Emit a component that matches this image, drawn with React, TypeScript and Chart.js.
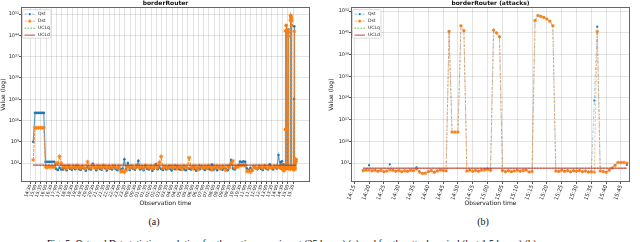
import React, { useEffect, useRef } from "react";
import { Chart, registerables } from "chart.js";
Chart.register(...registerables);

// ---------- DATA ----------
// Panel (a): whole experiment. Normal period sampled every 10 min from 14:47 (day 1)
const leftNormalStart = "14:47";
const leftNormalStepMin = 10;
const leftNormalQst = [
  1e9,
  3.2e18, 3.2e18, 3.2e18, 3.2e18, 3.2e18, 3.2e18,
  250, 260, 240, 250, 255, 245,
  1.2, 0.5, 3, 0.7,
  0.8, 2.5, 0.4, 5.1, 1.3, 0.6, 3.2, 0.9, 6.5, 1.1,
  0.5, 2.8, 1.6, 0.3, 4.2, 1.0, 0.7, 60, 2.2, 0.4,
  3.5, 1.2, 0.6, 8.5, 1.8, 0.35, 2.6, 1.4, 0.8, 5.5,
  1.1, 0.45, 2.9, 0.7, 1.5, 1600, 0.9, 100, 0.5, 3.1,
  1.3, 0.6, 4.4, 500, 0.8, 2.0, 0.4, 6.2, 1.2, 0.7,
  2.7, 0.3, 1.6, 45, 0.9, 3.6, 1.1, 0.5, 2.3, 0.8,
  5.0, 1.4, 0.35, 2.1, 0.9, 7.0, 1.2, 0.6, 3.3, 1.0,
  0.4, 2.4, 1.3, 0.7, 4.8, 1.1, 0.3, 2.6, 0.9, 6.0,
  1.5, 0.5, 3.0, 1.2, 0.7, 30, 0.8, 2.2, 0.4, 4.0,
  1.3, 0.6, 2.8, 1.0, 0.45, 5.5, 1000, 1.4, 0.7, 3.2,
  12, 300, 200, 350, 250, 1.5, 0.5, 2.5, 0.3, 6.5,
  1.8, 0.9, 3.6, 1.2, 0.5, 4.5, 1.6, 0.8, 40, 2.0,
  0.7, 5.0, 1.5, 40000,
];
const leftNormalDst = [
  1e3,
  4e13, 4e13, 4e13, 4e13, 4e13, 4e13,
  5, 3, 7, 4, 6, 3.5,
  80, 90, 15000, 70,
  3.5, 8.0, 1.5, 12, 4.0, 2.2, 9.0, 3.0, 15, 5.0,
  2.0, 7.5, 3.0, 1.2, 250, 3.8, 2.5, 18, 6.0, 1.8,
  9.5, 4.2, 2.0, 14, 5.5, 1.4, 7.0, 3.2, 2.6, 11,
  4.5, 1.6, 8.0, 0.12, 0.3, 0.1, 0.4, 6.5, 2.4, 9.0,
  3.6, 1.8, 12, 5.0, 2.8, 7.5, 1.3, 16, 4.4, 2.2,
  8.5, 1.5, 5.5, 20, 3.0, 150, 15000, 2.0, 7.0, 3.4,
  1.6, 10, 4.5, 2.4, 13, 1.2, 6.0, 3.5, 0.8, 9.0,
  4.0, 2.0, 6000, 5.0, 1.4, 8.0, 3.2, 0.6, 11, 4.2,
  2.6, 7.0, 1.8, 12, 3.8, 0.5, 6.5, 2.2, 9.5, 3.0,
  1.5, 8.0, 4.6, 0.4, 10, 3.0, 80, 500, 2.4, 7.5,
  5.0, 20, 15, 30, 12, 0.15, 0.3, 0.1, 0.5, 8.0,
  3.0, 1.4, 10, 4.8, 2.0, 13, 5.5, 1.6, 7.0, 3.2,
  2.4, 9.0, 4.0, 6.0,
];

// Attack period (used in both panels): sampled every minute from 14:18 (day 2)
const attackStart = "14:18";
const attackStepMin = 1;
const attackQst = [
  4.0, 6.0, 200, 3.5, 5.0, 2.5, 4.0, 1.8, 3.0, 400, 5.0, 2.0, 4.5, 1.5, 3.5, 2.0, 5.0, 3.0, 40, 2.0,
  0.5, 0.6, 1.5, 4.0, 1.2, 3.5, 6.0, 4.0, 2.5,
  3e45, 1e13, 1e13, 1e13, 2e47, 5e45,
  3.0, 5.0, 2.0, 4.5, 3.0, 6.0, 12, 15, 10,
  8e45, 1e45, 6e43,
  4.0, 2.0, 3.5, 1.5, 3.0, 5.0, 2.0, 4.0, 6.0, 1.5, 2.0,
  1e49, 4e50, 2e50, 1e50, 3e49, 6e48, 2e47,
  3.0, 2.0, 5.0, 2.5, 4.0, 1.5, 3.5, 2.0, 4.5, 1.8, 3.0, 1.5, 2.0,
  1.5e23, 1e47,
  3.0, 2.0, 1.2,
  5.0, 30, 200, 1500, 1500, 1500, 250,
];
const attackDst = [
  3.0, 4.5, 5.0, 3.0, 4.0, 2.0, 4.5, 1.6, 2.5, 6.0, 4.0, 2.5, 3.5, 1.8, 3.0, 2.2, 4.0, 3.5, 12, 1.2,
  0.4, 0.5, 1.8, 3.0, 1.0, 2.5, 5.0, 3.5, 3.0,
  3e45, 1e13, 1e13, 1e13, 2e47, 5e45,
  2.5, 4.0, 2.5, 3.5, 2.0, 4.5, 5.0, 8.0, 4.0,
  8e45, 1e45, 6e43,
  3.5, 1.5, 3.0, 1.8, 2.5, 4.0, 2.5, 3.5, 5.0, 1.2, 1.8,
  1e49, 4e50, 2e50, 1e50, 3e49, 6e48, 2e47,
  2.5, 2.0, 4.0, 2.0, 3.0, 1.5, 3.0, 2.5, 3.5, 1.5, 2.5, 1.2, 1.5,
  1.2, 2.5e45,
  2.5, 1.8, 1.0,
  4.0, 25, 150, 1500, 1500, 1500, 1000,
];

const UCLQ = 22;
const UCLD = 20;

const leftTickLabels = [
  "14:30", "15:00", "15:30", "16:00", "16:30", "17:00", "17:30", "18:00", "18:30", "19:00",
  "19:30", "20:00", "20:30", "21:00", "21:30", "22:00", "22:30", "23:00", "23:30", "00:00",
  "00:30", "01:00", "01:30", "02:00", "02:30", "03:00", "03:30", "04:00", "04:30", "05:00",
  "05:30", "06:00", "06:30", "07:00", "07:30", "08:00", "08:30", "09:00", "09:30", "10:00",
  "10:30", "11:00", "11:30", "12:00", "12:30", "13:00", "13:30", "14:00", "14:30", "15:00",
  "15:30",
];
const rightTickLabels = [
  "14:15", "14:20", "14:25", "14:30", "14:35", "14:40", "14:45", "14:50", "14:55", "15:00",
  "15:05", "15:10", "15:15", "15:20", "15:25", "15:30", "15:35", "15:40", "15:45",
];
const leftYTickExps = [2, 9, 16, 23, 30, 37, 44, 51];
const rightYTickExps = [3, 10, 17, 24, 31, 38, 45, 52];

const legendLabels = ["Qst", "Dst", "UCLq", "UCLd"];

// ---------- HELPERS ----------
const FONT = "'DejaVu Sans', sans-serif";
const SUP: Record<string, string> = {
  "0": "\u2070", "1": "\u00b9", "2": "\u00b2", "3": "\u00b3", "4": "\u2074",
  "5": "\u2075", "6": "\u2076", "7": "\u2077", "8": "\u2078", "9": "\u2079", "-": "\u207b",
};
const toMin = (s: string) => {
  const [h, m] = s.split(":").map(Number);
  return h * 60 + m;
};
const fmtTime = (v: number) => {
  const mm = ((Math.round(v) % 1440) + 1440) % 1440;
  return `${String(Math.floor(mm / 60)).padStart(2, "0")}:${String(mm % 60).padStart(2, "0")}`;
};
const fmtPow = (v: number) => {
  const e = Math.round(Math.log10(v));
  return "10" + String(e).split("").map((c) => SUP[c]).join("");
};
const parseTicks = (labels: string[]) => {
  let day = 0;
  let prev = -1;
  return labels.map((l) => {
    const raw = toMin(l);
    if (prev >= 0 && raw < prev) day++;
    prev = raw;
    return raw + day * 1440;
  });
};

const COLORS = {
  q: "#1f77b4",
  d: "#ff7f0e",
  qLine: "rgba(31,119,180,0.55)",
  dLine: "rgba(255,127,14,0.65)",
  uq: "rgba(44,160,44,0.75)",
  ud: "rgba(214,39,40,0.6)",
};

interface SeriesStyle {
  qLine: string;
  dLine: string;
  qDash: number[];
  dDash: number[];
  lineW: number;
  qR: number;
  dR: number;
}

function buildDatasets(xs: number[], q: number[], d: number[], st: SeriesStyle) {
  const x0 = xs[0];
  const x1 = xs[xs.length - 1];
  return [
    {
      label: "Qst",
      data: xs.map((x, i) => ({ x, y: q[i] })),
      borderColor: st.qLine,
      borderWidth: st.lineW,
      borderDash: st.qDash,
      pointStyle: "circle",
      pointRadius: st.qR,
      pointBackgroundColor: COLORS.q,
      pointBorderColor: COLORS.q,
      pointBorderWidth: 0,
      order: 4,
    },
    {
      label: "Dst",
      data: xs.map((x, i) => ({ x, y: d[i] })),
      borderColor: st.dLine,
      borderWidth: st.lineW,
      borderDash: st.dDash,
      pointStyle: "star",
      pointRadius: st.dR,
      pointBackgroundColor: COLORS.d,
      pointBorderColor: COLORS.d,
      pointBorderWidth: 0.9,
      order: 3,
    },
    {
      label: "UCLq",
      data: [{ x: x0, y: UCLQ }, { x: x1, y: UCLQ }],
      borderColor: COLORS.uq,
      borderWidth: 1,
      borderDash: [1.5, 1.5],
      pointRadius: 0,
      order: 2,
    },
    {
      label: "UCLd",
      data: [{ x: x0, y: UCLD }, { x: x1, y: UCLD }],
      borderColor: COLORS.ud,
      borderWidth: 1.5,
      pointRadius: 0,
      order: 1,
    },
  ];
}

const framePlugin = {
  id: "frame",
  afterDatasetsDraw(chart: any) {
    const { ctx, chartArea: a } = chart;
    ctx.save();
    ctx.strokeStyle = "#666";
    ctx.lineWidth = 1;
    ctx.strokeRect(Math.round(a.left) + 0.5, Math.round(a.top) + 0.5, Math.round(a.right - a.left) - 1, Math.round(a.bottom - a.top) - 1);
    ctx.restore();
  },
};

const legendPlugin = {
  id: "mplLegend",
  afterDraw(chart: any) {
    const { ctx, chartArea: a } = chart;
    const L = a.left;
    const T = a.top;
    ctx.save();
    ctx.beginPath();
    ctx.roundRect(L + 1.5, T + 2.5, 28.5, 28.5, 1.5);
    ctx.fillStyle = "rgba(255,255,255,0.85)";
    ctx.fill();
    ctx.strokeStyle = "#cfcfcf";
    ctx.lineWidth = 0.8;
    ctx.stroke();
    const styles = [
      { c: COLORS.qLine, dash: [3, 1.5, 1, 1.5], w: 0.8, m: "circle" },
      { c: COLORS.dLine, dash: [2.5, 1.5], w: 0.8, m: "star" },
      { c: COLORS.uq, dash: [1.5, 1.5], w: 1, m: "" },
      { c: COLORS.ud, dash: [], w: 1.5, m: "" },
    ];
    legendLabels.forEach((lab, i) => {
      const y = T + 7 + i * 7;
      const s = styles[i];
      ctx.beginPath();
      ctx.setLineDash(s.dash);
      ctx.strokeStyle = s.c;
      ctx.lineWidth = s.w;
      ctx.moveTo(L + 3.5, y);
      ctx.lineTo(L + 14, y);
      ctx.stroke();
      ctx.setLineDash([]);
      const mx = L + 8.75;
      if (s.m === "circle") {
        ctx.beginPath();
        ctx.fillStyle = COLORS.q;
        ctx.arc(mx, y, 1.1, 0, Math.PI * 2);
        ctx.fill();
      } else if (s.m === "star") {
        ctx.beginPath();
        ctx.strokeStyle = COLORS.d;
        ctx.lineWidth = 0.8;
        const r = 1.7;
        for (let k = 0; k < 4; k++) {
          const ang = (k * Math.PI) / 4;
          ctx.moveTo(mx - r * Math.cos(ang), y - r * Math.sin(ang));
          ctx.lineTo(mx + r * Math.cos(ang), y + r * Math.sin(ang));
        }
        ctx.stroke();
      }
      ctx.fillStyle = "#222";
      ctx.font = `4.5px ${FONT}`;
      ctx.textBaseline = "middle";
      ctx.textAlign = "left";
      ctx.fillText(lab, L + 17, y);
    });
    ctx.restore();
  },
};

interface PanelCfg {
  title: string;
  xs: number[];
  q: number[];
  d: number[];
  xMin: number;
  xMax: number;
  xTicks: number[];
  xFont: number;
  yMinExp: number;
  yMaxExp: number;
  yTicks: number[];
  padLeft: number;
  yWidth: number;
  style: SeriesStyle;
}

function makeConfig(c: PanelCfg): any {
  const grid = { color: "rgba(0,0,0,0.11)", lineWidth: 1, drawTicks: true, tickLength: 2, tickColor: "#555" };
  return {
    type: "line",
    data: { datasets: buildDatasets(c.xs, c.q, c.d, c.style) },
    options: {
      responsive: false,
      animation: false,
      devicePixelRatio: 1,
      events: [],
      layout: { padding: { left: c.padLeft, right: 10, top: 0, bottom: 0 } },
      elements: { line: { tension: 0 } },
      plugins: {
        legend: { display: false },
        tooltip: { enabled: false },
        title: {
          display: true,
          text: c.title,
          fullSize: false,
          color: "#111",
          padding: 0,
          font: { family: FONT, size: 6, weight: "bold", lineHeight: 1.2 },
        },
      },
      scales: {
        x: {
          type: "linear",
          min: c.xMin,
          max: c.xMax,
          afterBuildTicks: (s: any) => {
            s.ticks = c.xTicks.map((v) => ({ value: v }));
          },
          afterFit: (s: any) => {
            s.height = 28;
          },
          ticks: {
            autoSkip: false,
            minRotation: 70,
            maxRotation: 70,
            padding: 0,
            color: "#222",
            font: { family: FONT, size: c.xFont },
            callback: (v: number) => fmtTime(v),
          },
          grid,
          border: { display: false },
          title: {
            display: true,
            text: "Observation time",
            color: "#111",
            font: { family: FONT, size: 6, lineHeight: 1.2 },
            padding: { top: 0, bottom: 3 },
          },
        },
        y: {
          type: "logarithmic",
          min: Math.pow(10, c.yMinExp),
          max: Math.pow(10, c.yMaxExp),
          afterBuildTicks: (s: any) => {
            s.ticks = c.yTicks.map((e) => ({ value: Math.pow(10, e) }));
          },
          afterFit: (s: any) => {
            s.width = c.yWidth;
          },
          ticks: {
            padding: 0,
            color: "#222",
            font: { family: FONT, size: 5 },
            callback: (v: number) => fmtPow(v),
          },
          grid,
          border: { display: false },
          title: {
            display: true,
            text: "Value (log)",
            color: "#111",
            font: { family: FONT, size: 6, lineHeight: 1.2 },
            padding: 0,
          },
        },
      },
    },
    plugins: [framePlugin, legendPlugin],
  };
}

function Panel({ cfg, left }: { cfg: PanelCfg; left: number }) {
  const ref = useRef<HTMLCanvasElement>(null);
  useEffect(() => {
    if (!ref.current) return;
    const chart = new Chart(ref.current, makeConfig(cfg));
    return () => chart.destroy();
  }, []);
  return (
    <canvas
      ref={ref}
      width={320}
      height={210}
      style={{ position: "absolute", left, top: 0, width: 320, height: 210 }}
    />
  );
}

export default function App() {
  const normalT0 = toMin(leftNormalStart);
  const attackT0 = toMin(attackStart);
  const leftXs = [
    ...leftNormalQst.map((_, i) => normalT0 + i * leftNormalStepMin),
    ...attackQst.map((_, i) => 1440 + attackT0 + i * attackStepMin),
  ];
  const rightXs = attackQst.map((_, i) => attackT0 + i * attackStepMin);

  const leftCfg: PanelCfg = {
    title: "borderRouter",
    xs: leftXs,
    q: [...leftNormalQst, ...attackQst],
    d: [...leftNormalDst, ...attackDst],
    xMin: 817,
    xMax: 2467,
    xTicks: parseTicks(leftTickLabels),
    xFont: 4.5,
    yMinExp: -4.25,
    yMaxExp: 53.3,
    yTicks: leftYTickExps,
    padLeft: 0,
    yWidth: 21,
    style: {
      qLine: "rgba(31,119,180,0.75)",
      dLine: "rgba(255,127,14,0.85)",
      qDash: [],
      dDash: [3, 1],
      lineW: 1.1,
      qR: 1.3,
      dR: 2,
    },
  };
  const rightCfg: PanelCfg = {
    title: "borderRouter (attacks)",
    xs: rightXs,
    q: attackQst,
    d: attackDst,
    xMin: 853.9,
    xMax: 948.05,
    xTicks: parseTicks(rightTickLabels),
    xFont: 5.5,
    yMinExp: -3.12,
    yMaxExp: 53.29,
    yTicks: rightYTickExps,
    padLeft: 8,
    yWidth: 23,
    style: {
      qLine: COLORS.qLine,
      dLine: COLORS.dLine,
      qDash: [3, 1.5, 1, 1.5],
      dDash: [2.5, 1.5],
      lineW: 0.8,
      qR: 1.1,
      dR: 1.7,
    },
  };

  const serif = "'Liberation Serif', 'Times New Roman', serif";
  return (
    <div
      style={{
        position: "absolute",
        left: 0,
        top: 0,
        width: 640,
        height: 242,
        overflow: "hidden",
        background: "#fff",
      }}
    >
      <Panel cfg={leftCfg} left={0} />
      <Panel cfg={rightCfg} left={320} />
      <div style={{ position: "absolute", left: 134, width: 40, top: 217, textAlign: "center", font: `10px/10px ${serif}`, color: "#111" }}>
        (a)
      </div>
      <div style={{ position: "absolute", left: 463, width: 40, top: 217, textAlign: "center", font: `10px/10px ${serif}`, color: "#111" }}>
        (b)
      </div>
      <div style={{ position: "absolute", left: 47, top: 237.5, whiteSpace: "nowrap", font: `10px/12px ${serif}`, color: "#111" }}>
        Fig. 5: Qst and Dst statistics evolution for the entire experiment (25 hours) (a) and for the attack period (last 1.5 hours) (b).
      </div>
    </div>
  );
}
